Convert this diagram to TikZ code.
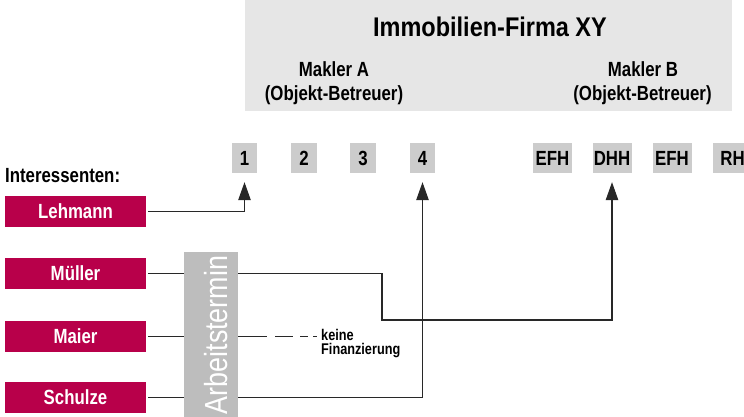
\documentclass[tikz,border=0pt]{standalone}
\usepackage{fontspec}
\setmainfont[FakeStretch=0.82]{Liberation Sans}
\newfontfamily\titlefont[FakeStretch=0.87]{Liberation Sans}
\newfontfamily\barfont[FakeStretch=0.84]{Liberation Sans}
\usetikzlibrary{arrows.meta}
\definecolor{crimson}{RGB}{184,0,74}
\definecolor{headgray}{RGB}{230,230,230}
\definecolor{boxgray}{RGB}{204,204,204}
\definecolor{bargray}{RGB}{189,189,189}
\definecolor{linegray}{RGB}{40,40,40}
\tikzset{
  lbl/.style={font=\bfseries\fontsize{20.5}{24}\selectfont, inner sep=0pt},
  namebox/.style={fill=crimson, text=white, font=\bfseries\fontsize{20.5}{20}\selectfont,
    minimum width=141pt, minimum height=31pt, inner sep=0pt, text height=14.7pt, text depth=0pt},
  numbox/.style={fill=boxgray, font=\bfseries\fontsize{20.5}{20}\selectfont,
    minimum height=30pt, inner sep=0pt, text height=14.7pt, text depth=0pt},
  conn/.style={draw=linegray, line width=1.1pt},
  arr/.style={conn, -{Triangle[length=18pt,width=12.5pt]}, shorten >=9pt}
}
\begin{document}
\begin{tikzpicture}[x=1pt,y=-1pt]
\clip (0,0) rectangle (744,416);
\fill[white] (0,0) rectangle (744,416);
% header
\fill[headgray] (245,0) rectangle (732,111);
\node[lbl, anchor=base, font=\titlefont\bfseries\fontsize{27}{30}\selectfont] (title) at (490,36) {Immobilien-Firma XY};
\node[lbl, anchor=base] (ma) at (334,76) {Makler A};
\node[lbl, anchor=base] (mao) at (334,100) {(Objekt-Betreuer)};
\node[lbl, anchor=base] (mb) at (643,76) {Makler B};
\node[lbl, anchor=base] (mbo) at (642.5,100) {(Objekt-Betreuer)};
% object boxes
\node[numbox, minimum width=25pt] (n1) at (244.5,158) {1};
\node[numbox, minimum width=26pt] (n2) at (304,158) {2};
\node[numbox, minimum width=26pt] (n3) at (363,158) {3};
\node[numbox, minimum width=25pt] (n4) at (422.5,158) {4};
\node[numbox, minimum width=39pt] (e1) at (552.5,158) {EFH};
\node[numbox, minimum width=39pt] (dhh) at (612,158) {DHH};
\node[numbox, minimum width=39pt] (e2) at (672,158) {EFH};
\node[numbox, minimum width=39pt] (rh) at (732.5,158) {RH};
% interested parties
\node[lbl, anchor=base west] (int) at (5,182) {Interessenten:};
\node[namebox] (leh) at (75.5,211.5) {Lehmann};
\node[namebox] (mue) at (75.5,273.5) {Müller};
\node[namebox] (mai) at (75.5,336.5) {Maier};
\node[namebox] (sch) at (75.5,397.5) {Schulze};
% Arbeitstermin bar
\node[fill=bargray, minimum width=54pt, minimum height=172pt, inner sep=0pt] (bar) at (211,338) {};
\node[anchor=base, rotate=90, text=white, font=\barfont\fontsize{32}{32}\selectfont, inner sep=0pt] (bt) at (227,335) {Arbeitstermin};
% keine Finanzierung
\node[anchor=base west, align=left, inner sep=0pt, font=\bfseries\fontsize{15.5}{14}\selectfont] (kf) at (321,354) {keine\\Finanzierung};
\coordinate (mturn) at (382,320);
% connectors
\draw[arr, shorten <=2pt] (leh.east) -| (n1.south);
\draw[conn, shorten <=2pt] (mue.east) -- (bar.west |- mue.east);
\draw[arr] (bar.east |- mue.east) -| (mturn) -| (dhh.south);
\draw[conn, shorten <=2pt] (mai.east) -- (bar.west |- mai.east);
\draw[conn, dash pattern=on 29pt off 8pt on 18pt off 7pt on 8pt off 5pt on 4pt off 20pt] (bar.east |- mai.east) -- (317,336.5);
\draw[conn, shorten <=2pt] (sch.east) -- (bar.west |- sch.east);
\draw[arr] (bar.east |- sch.east) -| (n4.south);
\end{tikzpicture}
\end{document}
